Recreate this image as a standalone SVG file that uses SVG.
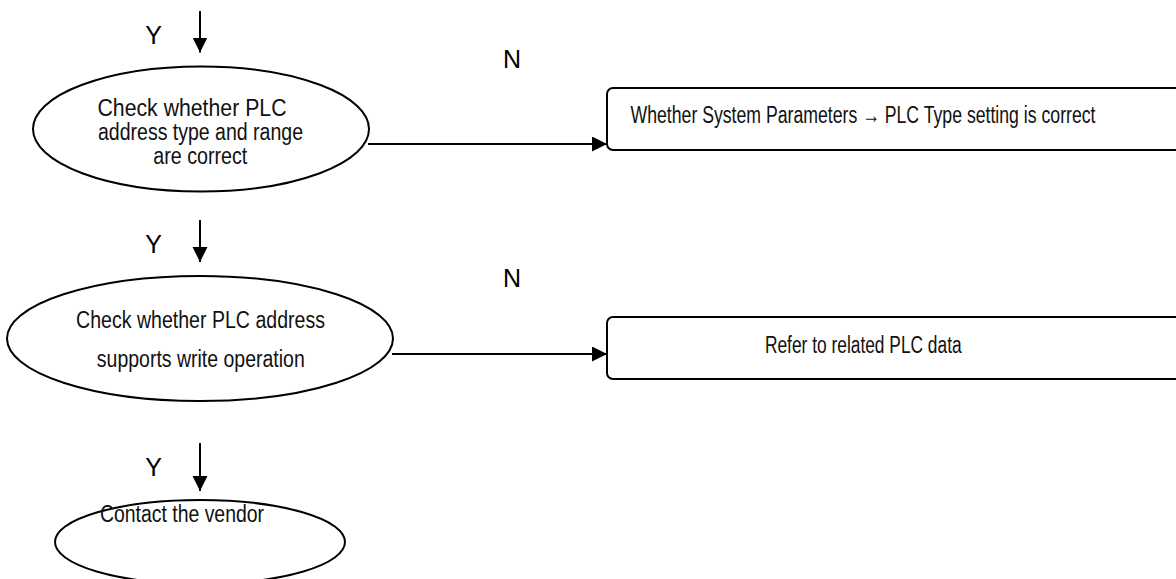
<svg xmlns="http://www.w3.org/2000/svg" width="1176" height="579" viewBox="0 0 1176 579">
<style>
.shape{fill:#fff;stroke:#000;stroke-width:2}
.t{font-family:"Liberation Sans",Arial,sans-serif;font-size:23.5px;fill:#111;text-anchor:middle}
.lbl{font-family:"Liberation Sans",Arial,sans-serif;font-size:25px;fill:#000;text-anchor:middle}
.conn{stroke:#000;stroke-width:2;fill:none;marker-end:url(#ah)}
</style>
<defs>
<marker id="ah" markerUnits="userSpaceOnUse" markerWidth="16" markerHeight="16" refX="15" refY="7.5" orient="auto">
<path d="M0,0 L15,7.5 L0,15 z" fill="#000"/>
</marker>
</defs>
<rect width="1176" height="579" fill="#fff"/>
<g id="connectors">
<line class="conn" x1="200" y1="11" x2="200" y2="52.5"/>
<line class="conn" x1="200" y1="220" x2="200" y2="262"/>
<line class="conn" x1="200" y1="443" x2="200" y2="491"/>
<line class="conn" x1="368" y1="144" x2="607" y2="144"/>
<line class="conn" x1="392" y1="354" x2="607" y2="354"/>
<text class="lbl" x="153.5" y="44">Y</text>
<text class="lbl" x="153.5" y="253">Y</text>
<text class="lbl" x="153.5" y="476">Y</text>
<text class="lbl" x="512" y="68">N</text>
<text class="lbl" x="512" y="287">N</text>
</g>
<g id="node-check-type">
<ellipse class="shape" cx="201" cy="129" rx="168" ry="62.5"/>
<text class="t" x="192" y="115.5" textLength="189" lengthAdjust="spacingAndGlyphs">Check whether PLC</text>
<text class="t" x="200.5" y="140" textLength="205" lengthAdjust="spacingAndGlyphs">address type and range</text>
<text class="t" x="200.3" y="164" textLength="94" lengthAdjust="spacingAndGlyphs">are correct</text>
</g>
<g id="node-plc-type">
<path class="shape" d="M1176,88 H613 A6,6 0 0 0 607,94 V144 A6,6 0 0 0 613,150 H1176"/>
<text class="t" x="863" y="123" textLength="465" lengthAdjust="spacingAndGlyphs">Whether System Parameters → PLC Type setting is correct</text>
</g>
<g id="node-check-write">
<ellipse class="shape" cx="200" cy="338.5" rx="193" ry="62.5"/>
<text class="t" x="200.5" y="328.3" textLength="249" lengthAdjust="spacingAndGlyphs">Check whether PLC address</text>
<text class="t" x="200.8" y="366.7" textLength="208" lengthAdjust="spacingAndGlyphs">supports write operation</text>
</g>
<g id="node-refer">
<path class="shape" d="M1176,317 H613 A6,6 0 0 0 607,323 V373 A6,6 0 0 0 613,379 H1176"/>
<text class="t" x="863.3" y="352.7" textLength="196.7" lengthAdjust="spacingAndGlyphs">Refer to related PLC data</text>
</g>
<g id="node-vendor">
<ellipse class="shape" cx="200" cy="542" rx="145" ry="42"/>
<text class="t" x="182" y="521.7" textLength="164" lengthAdjust="spacingAndGlyphs">Contact the vendor</text>
</g>
</svg>
